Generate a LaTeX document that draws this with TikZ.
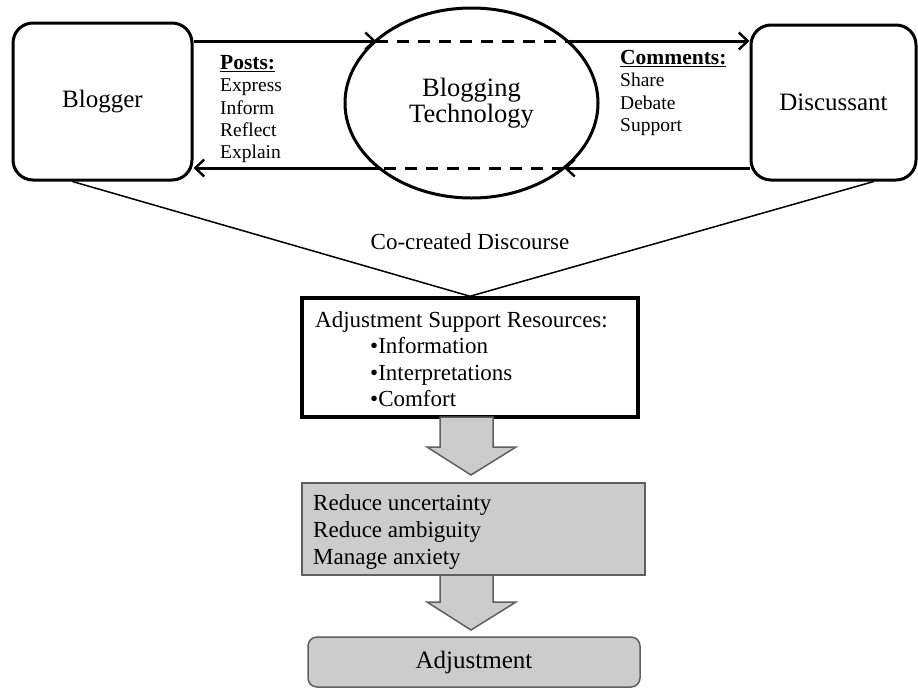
\documentclass[tikz,border=0pt]{standalone}
\usepackage{fontspec}
\setmainfont{Liberation Serif}
\usetikzlibrary{arrows.meta,shapes.geometric,calc}
\definecolor{boxgray}{RGB}{204,204,204}
\definecolor{edgegray}{RGB}{95,95,95}
\tikzset{
  actor/.style={draw,line width=3pt,rounded corners=20pt,inner sep=0pt,font=\fontsize{25}{28}\selectfont},
  conn/.style={line width=3pt,-{Straight Barb[length=9pt,width=17pt,line width=2.4pt]}},
  dashline/.style={line width=3pt,dash pattern=on 12pt off 9pt},
  thinline/.style={line width=1.5pt},
  txt/.style={inner sep=0pt,anchor=base west},
  grayshape/.style={fill=boxgray,draw=edgegray,line width=1.5pt},
}
\newcommand{\hd}[1]{\fontsize{21.5}{22.5}\selectfont\bfseries\underline{#1}}
\begin{document}
\begin{tikzpicture}[x=1pt,y=-1pt]
\useasboundingbox (0,0) rectangle (918,689);
% actors
\node[actor,minimum width=179pt,minimum height=157pt] (blogger) at (102.5,101.5) {Blogger};
\node[actor,minimum width=165pt,minimum height=155pt] (disc) at (833.5,102.5) {Discussant};
\node[draw,ellipse,line width=3pt,minimum width=253pt,minimum height=190pt,inner sep=0pt,align=center,
      font=\fontsize{26.5}{26}\selectfont] (tech) at (471.5,103) {Blogging\\Technology};
% intersection points on the ellipse
\coordinate (tl) at (376,41);
\coordinate (tr) at (567,41);
\coordinate (bl) at (379,168);
\coordinate (br) at (564,168);
% top flow
\draw[conn] (blogger.east |- tl) -- (tl);
\draw[dashline] (tl) -- (tr);
\draw[conn] (tr) -- (disc.west |- tr);
% bottom flow
\draw[conn] (disc.west |- br) -- (br);
\draw[dashline] (br) -- (bl);
\draw[conn] (bl) -- (blogger.east |- bl);
% labels
\node[txt] (posts) at (220,69.5) {\fontsize{19.5}{22.3}\selectfont
  \begin{tabular}[t]{@{}l@{}}\hd{Posts:}\\Express\\Inform\\Reflect\\Explain\end{tabular}};
\node[txt] (comments) at (620,64.5) {\fontsize{19.5}{22.3}\selectfont
  \begin{tabular}[t]{@{}l@{}}\hd{Comments:}\\Share\\Debate\\Support\end{tabular}};
% resources box
\node[draw,line width=3.5pt,minimum width=336pt,minimum height=119pt,inner sep=0pt] (asr) at (470,357.5) {};
\coordinate (bfoot) at ($(blogger.south west)!0.335!(blogger.south east)$);
\coordinate (dfoot) at ($(disc.south west)!0.74!(disc.south east)$);
\draw[thinline] (bfoot) -- (asr.north) -- (dfoot);
\node[font=\fontsize{23}{26}\selectfont,inner sep=0pt] (cocreated) at (470,242) {Co-created Discourse};
\node[txt,font=\fontsize{23}{26.5}\selectfont] (asrtitle) at (315,327) {Adjustment Support Resources:};
\node[txt,font=\fontsize{23}{26.5}\selectfont] (asr1) at (370,353) {•Information};
\node[txt,font=\fontsize{23}{26.5}\selectfont] (asr2) at (370,380) {•Interpretations};
\node[txt,font=\fontsize{23}{26.5}\selectfont] (asr3) at (370,406) {•Comfort};
% block arrow 1
\draw[grayshape] (440,417) -- (493,417) -- (493,447) -- (516,447) -- (471,475) -- (427,447) -- (440,447) -- cycle;
% reduce box
\node[grayshape,minimum width=343pt,minimum height=92pt,inner sep=0pt] (reduce) at (473.5,529) {};
\node[txt,font=\fontsize{23}{27}\selectfont] (r1) at (313,510) {Reduce uncertainty};
\node[txt,font=\fontsize{23}{27}\selectfont] (r2) at (313,537) {Reduce ambiguity};
\node[txt,font=\fontsize{23}{27}\selectfont] (r3) at (313,564) {Manage anxiety};
% block arrow 2
\draw[grayshape] (440,575) -- (493,575) -- (493,602) -- (516,602) -- (471,630) -- (427,602) -- (440,602) -- cycle;
% adjustment
\node[grayshape,rounded corners=9pt,minimum width=332pt,minimum height=50pt,inner sep=0pt,
      font=\fontsize{25}{28}\selectfont] (adj) at (474,662) {Adjustment};
\end{tikzpicture}
\end{document}
